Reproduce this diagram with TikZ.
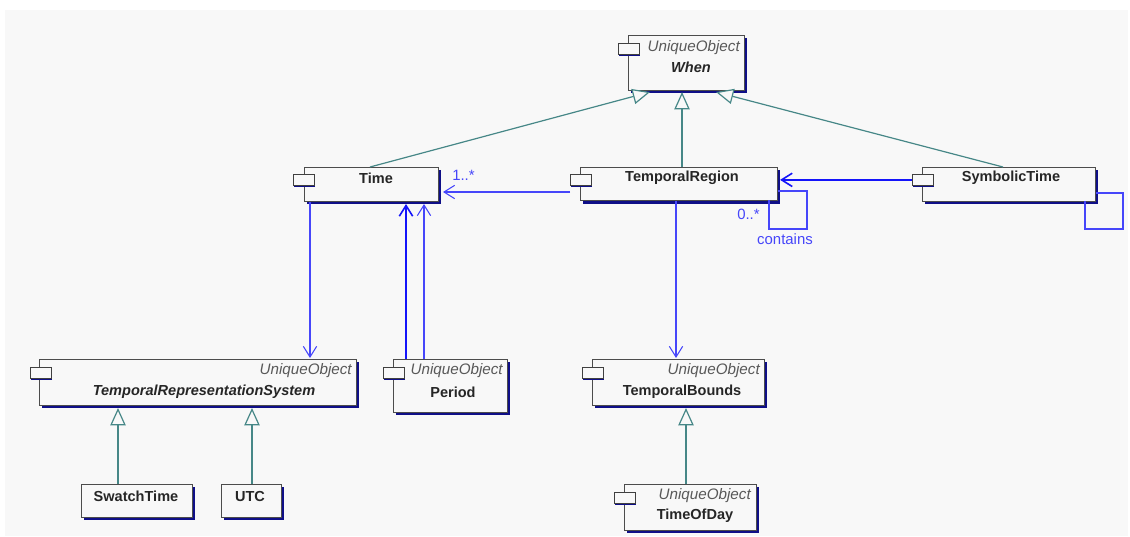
\documentclass[tikz,border=0pt]{standalone}
\usepackage{fontspec}
\setmainfont{Liberation Sans}
\usetikzlibrary{arrows.meta,shadows}
\definecolor{pagegray}{RGB}{248,248,248}
\definecolor{boxnavy}{RGB}{15,15,135}
\definecolor{genteal}{RGB}{70,135,135}
\definecolor{assocblue}{RGB}{70,70,250}
\definecolor{strongblue}{RGB}{20,20,250}
\begin{document}
\begin{tikzpicture}[x=0.75pt,y=0.75pt,yscale=-1,xscale=1,
    classbox/.style={draw=black!70,line width=0.8pt,fill=pagegray,inner sep=0pt,anchor=north west,
        general shadow={shadow xshift=2.2pt,shadow yshift=-2.2pt,fill=boxnavy}},
    classtab/.style={draw=black!75,line width=0.8pt,fill=pagegray,inner sep=0pt,anchor=north west,
        minimum width=15.5pt,minimum height=8pt,
        general shadow={shadow xshift=0.6pt,shadow yshift=-1.2pt,fill=boxnavy}},
    stereo/.style={font=\itshape\fontsize{11.4}{13}\selectfont,text=black!65,inner sep=0pt,anchor=east},
    classname/.style={font=\bfseries\fontsize{10.9}{13}\selectfont,text=black!85,inner sep=0pt},
    absname/.style={classname,font=\bfseries\itshape\fontsize{10.9}{13}\selectfont},
    gen/.style={draw=genteal,line width=0.9pt,-{Triangle[open,length=13pt,width=11.5pt,fill=pagegray]}},
    assoc/.style={draw=assocblue,line width=0.8pt,-{Straight Barb[length=8pt,width=10pt]}},
    strongassoc/.style={assoc,draw=strongblue,line width=1.2pt},
    selfloop/.style={draw=assocblue,line width=0.8pt},
    assoclabel/.style={font=\fontsize{11.2}{13}\selectfont,text=assocblue,inner sep=0pt}]
    \useasboundingbox (0,0) rectangle (1130,536);
    \fill[white] (0,0) rectangle (1130,536);
    \fill[pagegray] (5,10) rectangle (1128,536);
    % boxes
    \node[classbox,minimum width=87pt,minimum height=41pt] (when) at (628,35) {};
    \node[classbox,minimum width=100.5pt,minimum height=25.5pt] (time) at (304,167) {};
    \node[classbox,minimum width=147.75pt,minimum height=25pt] (tregion) at (580,167) {};
    \node[classbox,minimum width=129.75pt,minimum height=25.5pt] (symtime) at (922,167) {};
    \node[classbox,minimum width=237.75pt,minimum height=34.5pt] (trsystem) at (39,359) {};
    \node[classbox,minimum width=85.5pt,minimum height=39.75pt] (period) at (393,359) {};
    \node[classbox,minimum width=129pt,minimum height=34.5pt] (tbounds) at (592,359) {};
    \node[classbox,minimum width=83.25pt,minimum height=24.75pt] (swatch) at (81,484) {};
    \node[classbox,minimum width=45pt,minimum height=24.75pt] (utc) at (221,484) {};
    \node[classbox,minimum width=99pt,minimum height=34.5pt] (timeofday) at (624,484) {};
    % tabs
    \node[classtab] (whentab) at (618,43) {};
    \node[classtab] (timetab) at (293,174) {};
    \node[classtab] (tregiontab) at (570,174) {};
    \node[classtab] (symtimetab) at (912,174) {};
    \node[classtab] (trsystemtab) at (30,367) {};
    \node[classtab] (periodtab) at (383,367) {};
    \node[classtab] (tboundstab) at (582,367) {};
    \node[classtab] (timeofdaytab) at (614,492) {};
    % texts
    \node[stereo] (whenst) at (740,48) {UniqueObject};
    \node[absname] (whenname) at (691,67) {When};
    \node[classname] (timename) at (376,178) {Time};
    \node[classname] (tregionname) at (682,178) {TemporalRegion};
    \node[classname] (symtimename) at (1011,178) {SymbolicTime};
    \node[stereo] (trsystemst) at (352,371) {UniqueObject};
    \node[absname] (trsystemname) at (204,392) {TemporalRepresentationSystem};
    \node[stereo] (periodst) at (503,371) {UniqueObject};
    \node[classname] (periodname) at (453,392) {Period};
    \node[stereo] (tboundsst) at (760,371) {UniqueObject};
    \node[classname] (tboundsname) at (682,392) {TemporalBounds};
    \node[classname] (swatchname) at (136,496) {SwatchTime};
    \node[classname] (utcname) at (250,496) {UTC};
    \node[stereo] (timeofdayst) at (751,496) {UniqueObject};
    \node[classname] (timeofdayname) at (695,516) {TimeOfDay};
    \node[assoclabel,anchor=west] (timemult) at (452,175) {1..*};
    \node[assoclabel,anchor=west] (tregionmult) at (737,214) {0..*};
    \node[assoclabel] (containslabel) at (785,239) {contains};
    % helper points on the box edges
    \coordinate (whenA) at (650,92);
    \coordinate (whenB) at (682,92);
    \coordinate (whenC) at (716,92);
    \coordinate (timeA) at (370,167);
    \coordinate (symA) at (1003,167);
    % generalisations
    \draw[gen] (timeA) -- (whenA);
    \draw[gen] (tregion.north -| whenB) -- (whenB);
    \draw[gen] (symA) -- (whenC);
    \draw[gen] (swatch.north -| 118,0) -- (118,408);
    \draw[gen] (utc.north -| 252,0) -- (252,408);
    \draw[gen] (timeofday.north -| 686,0) -- (686,408);
    % associations
    \draw[assoc] (tregiontab.west |- 0,192) -- (443,192);
    \draw[strongassoc,shorten >=1.5pt] (symtimetab.west) -- (tregion.east |- symtimetab.west);
    \draw[assoc] (time.south -| 310,0) -- (310,358);
    \draw[strongassoc] (period.north -| 406,0) -- (406,204);
    \draw[assoc] (period.north -| 424,0) -- (424,204);
    \draw[assoc] (tregion.south -| 676,0) -- (676,358);
    % self loops
    \draw[selfloop] (tregion.east |- 0,191) -- (807,191) -- (807,229) -- (769,229) -- (769,200);
    \draw[selfloop] (symtime.east |- 0,193) -- (1123,193) -- (1123,229) -- (1085,229) -- (1085,201);
\end{tikzpicture}
\end{document}
